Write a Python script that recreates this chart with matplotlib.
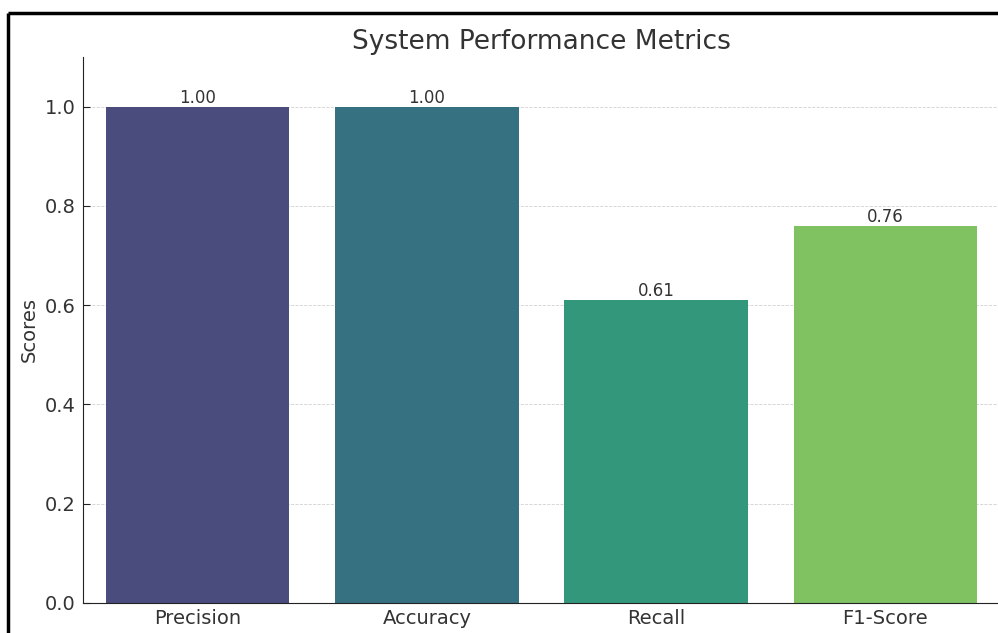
import matplotlib
matplotlib.use("Agg")
import matplotlib.pyplot as plt
import seaborn as sns
from matplotlib.lines import Line2D

metrics = ["Precision", "Accuracy", "Recall", "F1-Score"]
scores = [1.00, 1.00, 0.61, 0.76]
value_labels = ["1.00", "1.00", "0.61", "0.76"]

W, H = 998, 633
fig = plt.figure(figsize=(W / 100, H / 100), dpi=100)
ax = fig.add_axes([83 / W, 30 / H, (1000 - 83) / W, (603 - 57) / H])

colors = [sns.desaturate(c, 0.75) for c in sns.color_palette("viridis", len(metrics))]
x = range(len(metrics))
bars = ax.bar(x, scores, width=0.8, color=colors, zorder=2)
ax.bar_label(bars, labels=value_labels, padding=0, fontsize=12, color="#333333")

ax.set_xlim(-0.5, len(metrics) - 0.5)
ax.set_ylim(0, 1.1)
ax.set_xticks(list(x))
ax.set_xticklabels(metrics)
ax.set_yticks([0.0, 0.2, 0.4, 0.6, 0.8, 1.0])
ax.set_yticklabels(["0.0", "0.2", "0.4", "0.6", "0.8", "1.0"])
ax.tick_params(axis="both", labelsize=14, colors="#222222", labelcolor="#333333",
               direction="in", length=5)
ax.tick_params(axis="y", pad=5.5)
ax.tick_params(axis="x", pad=4)
ax.set_ylabel("Scores", fontsize=14, color="#333333", labelpad=4)
ax.set_title("System Performance Metrics", fontsize=19, color="#333333", pad=6)
ax.grid(axis="y", linestyle="--", linewidth=0.6, color="#cccccc", alpha=0.9, zorder=0)
ax.set_axisbelow(True)
for s in ["top", "right"]:
    ax.spines[s].set_visible(False)
for s in ["left", "bottom"]:
    ax.spines[s].set_color("#222222")

# screenshot frame (top and left black border)
fig.add_artist(Line2D([8 / W, 1.01], [1 - 13 / H, 1 - 13 / H], transform=fig.transFigure,
                      color="black", linewidth=2.5, solid_capstyle="butt"))
fig.add_artist(Line2D([8 / W, 8 / W], [1 - 13 / H, -0.01], transform=fig.transFigure,
                      color="black", linewidth=2.5, solid_capstyle="butt"))

fig.savefig("out.png", dpi=100)
